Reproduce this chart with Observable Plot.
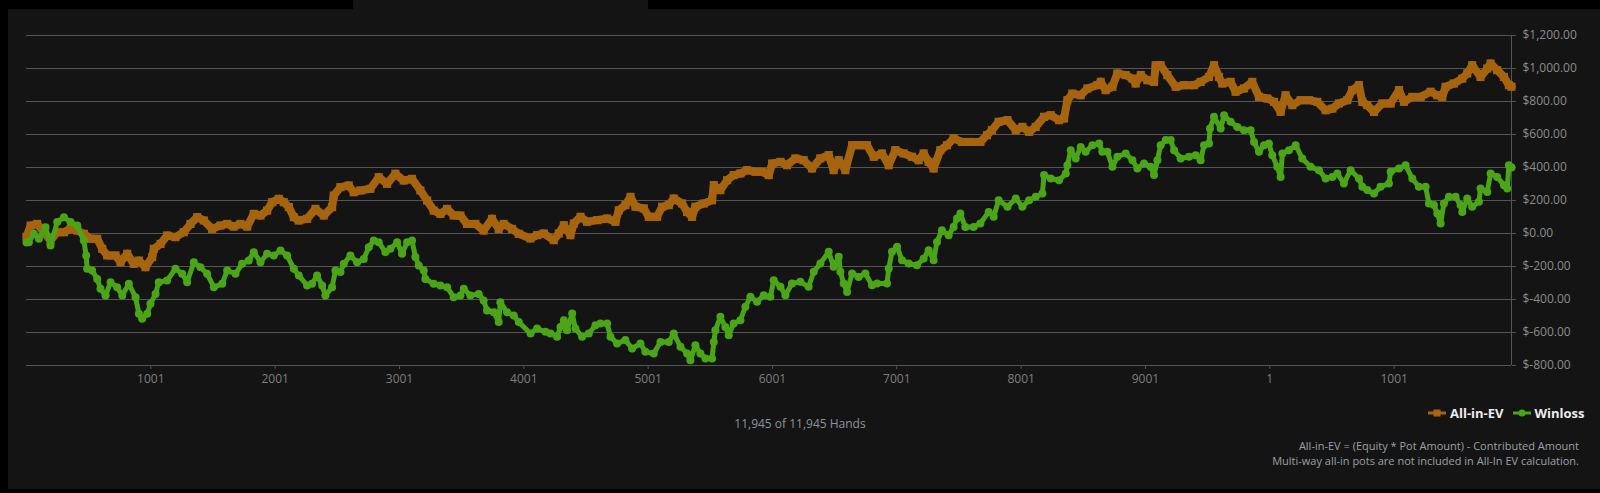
<!DOCTYPE html>
<html>
<head>
<meta charset="utf-8">
<script src="https://cdn.jsdelivr.net/npm/d3@7"></script>
<script src="https://cdn.jsdelivr.net/npm/@observablehq/plot@0.6"></script>
<style>
  html, body { margin: 0; padding: 0; background: #000; width: 1600px; height: 493px; overflow: hidden; font-family: "Open Sans", sans-serif; }
  #panel { position: absolute; left: 8px; top: 9px; width: 1592px; height: 480px; background: #141414; }
  #tab { position: absolute; left: 353px; top: 0; width: 295px; height: 9px; background: #141414; }
  #chart { position: absolute; left: 0; top: 0; }
  #hands { position: absolute; left: 0; width: 1600px; top: 415px; text-align: center; padding-left: 0; font-size: 12px; color: #8b939b; }
  #legend { position: absolute; top: 404px; left: 1428px; height: 18px; display: flex; align-items: center; font-size: 13px; font-weight: 700; color: #ececec; white-space: nowrap; }
  #legend .item { display: flex; align-items: center; margin-right: 9px; }
  #legend svg { margin-right: 4px; }
  #note { position: absolute; right: 21px; top: 438px; text-align: right; font-size: 11px; line-height: 15px; color: #9aa1a8; }
</style>
</head>
<body>
<div id="panel"></div>
<div id="tab"></div>
<div id="chart"></div>
<div id="hands"></div>
<div id="legend"></div>
<div id="note"></div>
<script>
// ---- data ----
const seriesNames = ["All-in-EV", "Winloss"];
const seriesColors = ["#a7640f", "#4aa517"];

const evHands = [1,34,87,141,194,248,302,355,409,462,516,570,610,650,717,757,811,864,905,958,1012,1025,1079,1132,1199,1266,1320,1374,1427,1494,1561,1615,1668,1722,1776,1829,1883,1936,1977,2030,2070,2111,2151,2191,2258,2325,2392,2459,2472,2526,2593,2633,2687,2767,2834,2901,2968,3035,3102,3169,3223,3276,3330,3384,3437,3491,3544,3611,3678,3745,3799,3839,3906,3960,4055,4108,4162,4242,4282,4323,4376,4403,4457,4510,4591,4671,4738,4765,4818,4859,4899,4966,5006,5073,5113,5167,5207,5274,5314,5354,5381,5448,5515,5529,5582,5636,5689,5743,5797,5864,5917,5971,5998,6065,6118,6185,6252,6319,6386,6453,6493,6534,6587,6641,6708,6761,6815,6882,6936,6989,7056,7123,7177,7217,7257,7297,7351,7405,7458,7525,7592,7673,7726,7766,7820,7891,7958,8011,8065,8118,8185,8239,8306,8346,8373,8413,8480,8534,8614,8641,8681,8735,8775,8842,8896,8922,8963,9016,9070,9083,9123,9177,9244,9311,9391,9445,9512,9552,9592,9619,9686,9726,9793,9860,9914,9981,10035,10088,10128,10182,10249,10316,10383,10450,10504,10557,10624,10664,10718,10745,10785,10839,10906,10973,11040,11080,11147,11214,11294,11348,11388,11415,11482,11549,11589,11629,11696,11750,11777,11830,11884,11924,11945];
const evValues = [-20,48,58,8,-42,8,8,28,18,-2,-32,-32,-93,-133,-133,-174,-123,-184,-164,-204,-143,-93,-63,-12,-22,8,58,99,79,28,48,58,42,58,42,119,109,139,190,210,190,160,99,79,89,149,109,160,230,281,291,250,261,271,341,301,362,321,331,261,200,139,119,149,109,109,58,58,18,89,28,58,28,-2,-30,-10,0,-40,0,50,-10,61,101,71,81,91,71,141,172,222,162,152,101,101,162,172,212,182,131,101,162,182,202,293,263,323,354,364,384,374,374,354,424,434,414,455,444,394,455,475,384,444,384,535,535,535,465,485,414,505,485,465,444,485,434,394,505,535,576,555,555,555,596,626,677,687,626,646,616,646,707,717,687,697,808,848,838,879,899,919,869,889,970,960,939,909,960,929,919,1020,1020,960,889,899,899,919,949,1020,949,909,919,859,879,919,828,818,798,737,838,778,808,808,798,747,757,788,808,869,899,798,778,737,788,788,869,798,828,828,859,838,828,889,909,939,970,1020,949,1000,1030,990,949,899,890];

const wlHands = [1,20,60,101,154,194,248,302,355,409,462,481,489,529,570,596,637,677,730,771,824,878,905,931,972,998,1039,1065,1132,1199,1253,1293,1347,1400,1454,1508,1575,1615,1682,1735,1789,1829,1883,1936,1990,2044,2097,2151,2191,2258,2298,2338,2379,2405,2459,2486,2526,2553,2606,2660,2714,2754,2794,2834,2888,2928,2982,3022,3062,3102,3129,3156,3196,3209,3276,3330,3384,3437,3491,3518,3571,3638,3678,3705,3759,3799,3812,3866,3920,3960,4055,4108,4175,4215,4269,4296,4323,4349,4390,4416,4470,4524,4577,4617,4671,4698,4751,4818,4872,4939,4979,5046,5100,5167,5207,5261,5314,5341,5381,5421,5462,5515,5529,5542,5582,5622,5649,5689,5743,5783,5823,5877,5931,5984,6011,6065,6105,6158,6225,6292,6333,6386,6453,6493,6534,6547,6574,6601,6641,6694,6748,6802,6842,6922,6936,6962,7003,7043,7096,7163,7217,7257,7297,7324,7364,7418,7458,7485,7512,7552,7619,7673,7740,7780,7820,7891,7958,8011,8065,8118,8172,8185,8239,8306,8360,8373,8400,8440,8480,8520,8574,8628,8654,8695,8735,8775,8842,8896,8936,8989,9043,9070,9097,9123,9164,9204,9231,9284,9351,9405,9445,9472,9512,9520,9552,9606,9633,9686,9740,9793,9847,9874,9914,9954,9994,10021,10061,10088,10102,10155,10209,10262,10329,10396,10450,10504,10544,10597,10651,10718,10745,10785,10839,10892,10959,10973,11040,11093,11147,11200,11254,11281,11321,11348,11375,11401,11442,11495,11535,11549,11589,11629,11683,11696,11750,11777,11830,11884,11911,11924,11945];
const wlValues = [-55,-53,-2,-32,38,-73,69,99,69,48,-42,-133,-214,-224,-275,-335,-376,-295,-325,-376,-305,-386,-487,-517,-487,-426,-366,-295,-285,-214,-244,-295,-174,-204,-244,-325,-305,-224,-244,-184,-164,-113,-174,-123,-133,-103,-133,-214,-254,-315,-305,-254,-315,-376,-325,-224,-234,-184,-133,-174,-154,-83,-42,-53,-113,-93,-53,-123,-53,-42,-143,-194,-224,-275,-305,-315,-325,-386,-376,-335,-376,-366,-406,-467,-477,-537,-416,-477,-497,-537,-606,-576,-596,-606,-626,-566,-525,-586,-485,-576,-626,-606,-556,-545,-545,-626,-667,-646,-697,-667,-717,-727,-657,-657,-606,-687,-727,-768,-677,-727,-758,-758,-657,-586,-505,-566,-616,-545,-525,-444,-384,-414,-374,-384,-283,-323,-374,-303,-293,-323,-232,-182,-111,-202,-141,-232,-303,-354,-242,-263,-242,-313,-303,-303,-212,-111,-81,-162,-182,-192,-151,-101,-162,-51,20,-10,40,91,121,40,40,61,131,101,202,162,212,162,202,222,242,354,333,323,364,414,505,455,525,495,535,545,495,495,404,465,485,444,394,424,404,354,444,535,566,566,505,455,465,475,444,535,545,636,707,636,717,677,646,626,626,555,495,535,545,475,404,343,485,505,535,455,404,384,333,343,364,303,384,333,283,263,242,283,303,374,394,414,333,283,283,182,172,121,61,182,222,222,172,131,212,162,192,273,252,364,343,293,273,414,400];

const yTicks = [-800,-600,-400,-200,0,200,400,600,800,1000,1200];
const xTicks = [1001,2001,3001,4001,5001,6001,7001,8001,9001,10001,11001];
const xTickLabels = ["1001","2001","3001","4001","5001","6001","7001","8001","9001","1","1001"];
const totalHands = 11945;
const handsText = "11,945 of 11,945 Hands";
const noteLines = ["All-in-EV = (Equity * Pot Amount) - Contributed Amount", "Multi-way all-in pots are not included in All-In EV calculation."];

// ---- build tables ----
const ev = evHands.map((h, i) => ({hand: h, value: evValues[i]}));
const wl = wlHands.map((h, i) => ({hand: h, value: wlValues[i]}));
const xLabelMap = new Map(xTicks.map((t, i) => [t, xTickLabels[i]]));
const money = v => (v < 0 ? "$-" : "$") + d3.format(",.2f")(Math.abs(v));

const chart = Plot.plot({
  width: 1600,
  height: 390,
  marginLeft: 26,
  marginRight: 89,
  marginTop: 35,
  marginBottom: 25,
  style: {background: "transparent", color: "#8c8c8c", fontFamily: "'Open Sans', sans-serif", fontSize: "12px"},
  x: {domain: [1, totalHands]},
  y: {domain: [-800, 1200]},
  marks: [
    Plot.ruleY(yTicks, {stroke: "#555555", strokeWidth: 1}),
    Plot.ruleX([totalHands], {y1: -800, y2: 1200, stroke: "#555555"}),
    Plot.axisY({anchor: "right", ticks: yTicks, tickFormat: money, tickSize: 4, tickPadding: 7, stroke: "#555555", fill: "#8c8c8c", label: null}),
    Plot.axisX({ticks: xTicks, tickFormat: d => xLabelMap.get(d), tickSize: 4, tickPadding: 5, stroke: "#555555", fill: "#7f7f7f", label: null}),
    Plot.line(ev, {x: "hand", y: "value", stroke: seriesColors[0], strokeWidth: 8, strokeLinejoin: "round"}),
    Plot.dot(ev, {x: "hand", y: "value", symbol: "square", r: 4.6, fill: seriesColors[0], stroke: "none"}),
    Plot.line(wl, {x: "hand", y: "value", stroke: seriesColors[1], strokeWidth: 5, strokeLinejoin: "round", strokeLinecap: "round"}),
    Plot.dot(wl, {x: "hand", y: "value", r: 4, fill: seriesColors[1], stroke: "none"})
  ]
});
document.getElementById("chart").appendChild(chart);

document.getElementById("hands").textContent = handsText;

const legend = document.getElementById("legend");
seriesNames.forEach((name, i) => {
  const item = document.createElement("div");
  item.className = "item";
  const marker = i === 0
    ? `<svg width="18" height="10"><line x1="0" y1="5" x2="18" y2="5" stroke="${seriesColors[i]}" stroke-width="3"/><rect x="5.5" y="1.5" width="7" height="7" fill="${seriesColors[i]}"/></svg>`
    : `<svg width="18" height="10"><line x1="0" y1="5" x2="18" y2="5" stroke="${seriesColors[i]}" stroke-width="3"/><circle cx="9" cy="5" r="3.6" fill="${seriesColors[i]}"/></svg>`;
  item.innerHTML = marker + `<span>${name}</span>`;
  legend.appendChild(item);
});

document.getElementById("note").innerHTML = noteLines.map(l => `<div>${l}</div>`).join("");
</script>
</body>
</html>
